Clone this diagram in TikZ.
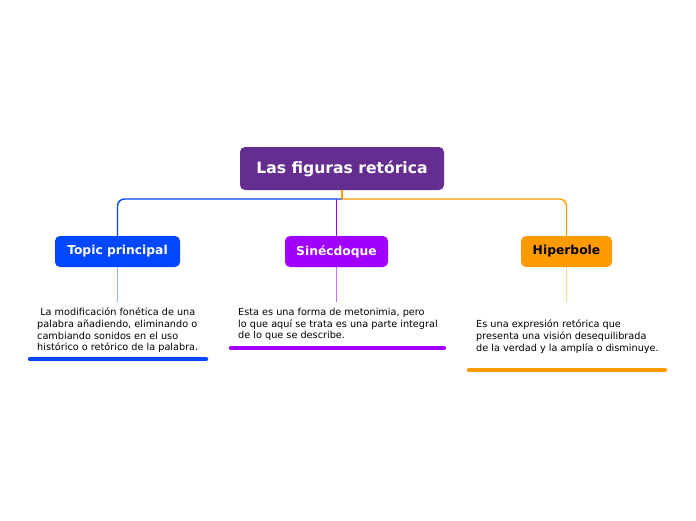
\documentclass[tikz,border=0pt]{standalone}
\usepackage{fontspec}
\setmainfont{DejaVu Sans}
\definecolor{rootcol}{RGB}{102,45,145}
\definecolor{bluecol}{RGB}{0,71,255}
\definecolor{violcol}{RGB}{161,0,255}
\definecolor{orcol}{RGB}{255,154,0}
\begin{document}
\begin{tikzpicture}[x=1pt,y=-1pt,
    topic/.style={rounded corners=5pt, minimum height=31pt, inner sep=0pt, text=white,
      font=\bfseries\fontsize{12.3}{14}\selectfont},
    note/.style={anchor=north west, align=left, inner sep=0pt,
      font=\fontsize{9.7}{11.6}\selectfont},
    branch/.style={line width=1.4pt, rounded corners=7pt},
    stem/.style={line width=0.9pt},
    bar/.style={line width=4.5pt, line cap=round}]
    \useasboundingbox (0,0) rectangle (696,520);
    \node[topic, fill=rootcol, minimum width=204pt, minimum height=43pt,
      font=\bfseries\fontsize{15.6}{18}\selectfont] (root) at (342,168.5) {Las figuras retórica};
    \node[topic, fill=bluecol, minimum width=125pt] (topic1) at (117.5,251.5) {Topic principal};
    \node[topic, fill=violcol, minimum width=103pt] (topic2) at (336.5,251.5) {Sinécdoque};
    \node[topic, fill=orcol, minimum width=91pt, text=black] (topic3) at (566.5,251.5) {Hiperbole};
    \coordinate (fork) at (342,199);
    % branches
    \draw[branch, bluecol] (fork) -| (topic1.north);
    \draw[branch, violcol] (topic2.north |- fork) -- (topic2.north);
    \draw[branch, orcol] (fork) -| (topic3.north);
    \draw[line width=1.4pt, orcol] (root.south) -- (fork);
    % notes
    \node[note] (note1) at (37,308) {\ La modificación fonética de una\\palabra añadiendo, eliminando o\\cambiando sonidos en el uso\\histórico o retórico de la palabra.};
    \node[note] (note2) at (238,308) {Esta es una forma de metonimia, pero\\lo que aquí se trata es una parte integral\\de lo que se describe.};
    \node[note] (note3) at (476,320) {Es una expresión retórica que\\presenta una visión desequilibrada\\de la verdad y la amplía o disminuye.};
    \draw[stem, bluecol!40] (topic1.south) -- ++(0,35);
    \draw[stem, violcol!55] (topic2.south) -- ++(0,35);
    \draw[stem, orcol!45] (topic3.south) -- ++(0,35);
    \draw[bar, bluecol] (30,359) -- (206,359);
    \draw[bar, violcol] (231,348) -- (444,348);
    \draw[bar, orcol] (469,370) -- (665,370);
\end{tikzpicture}
\end{document}
